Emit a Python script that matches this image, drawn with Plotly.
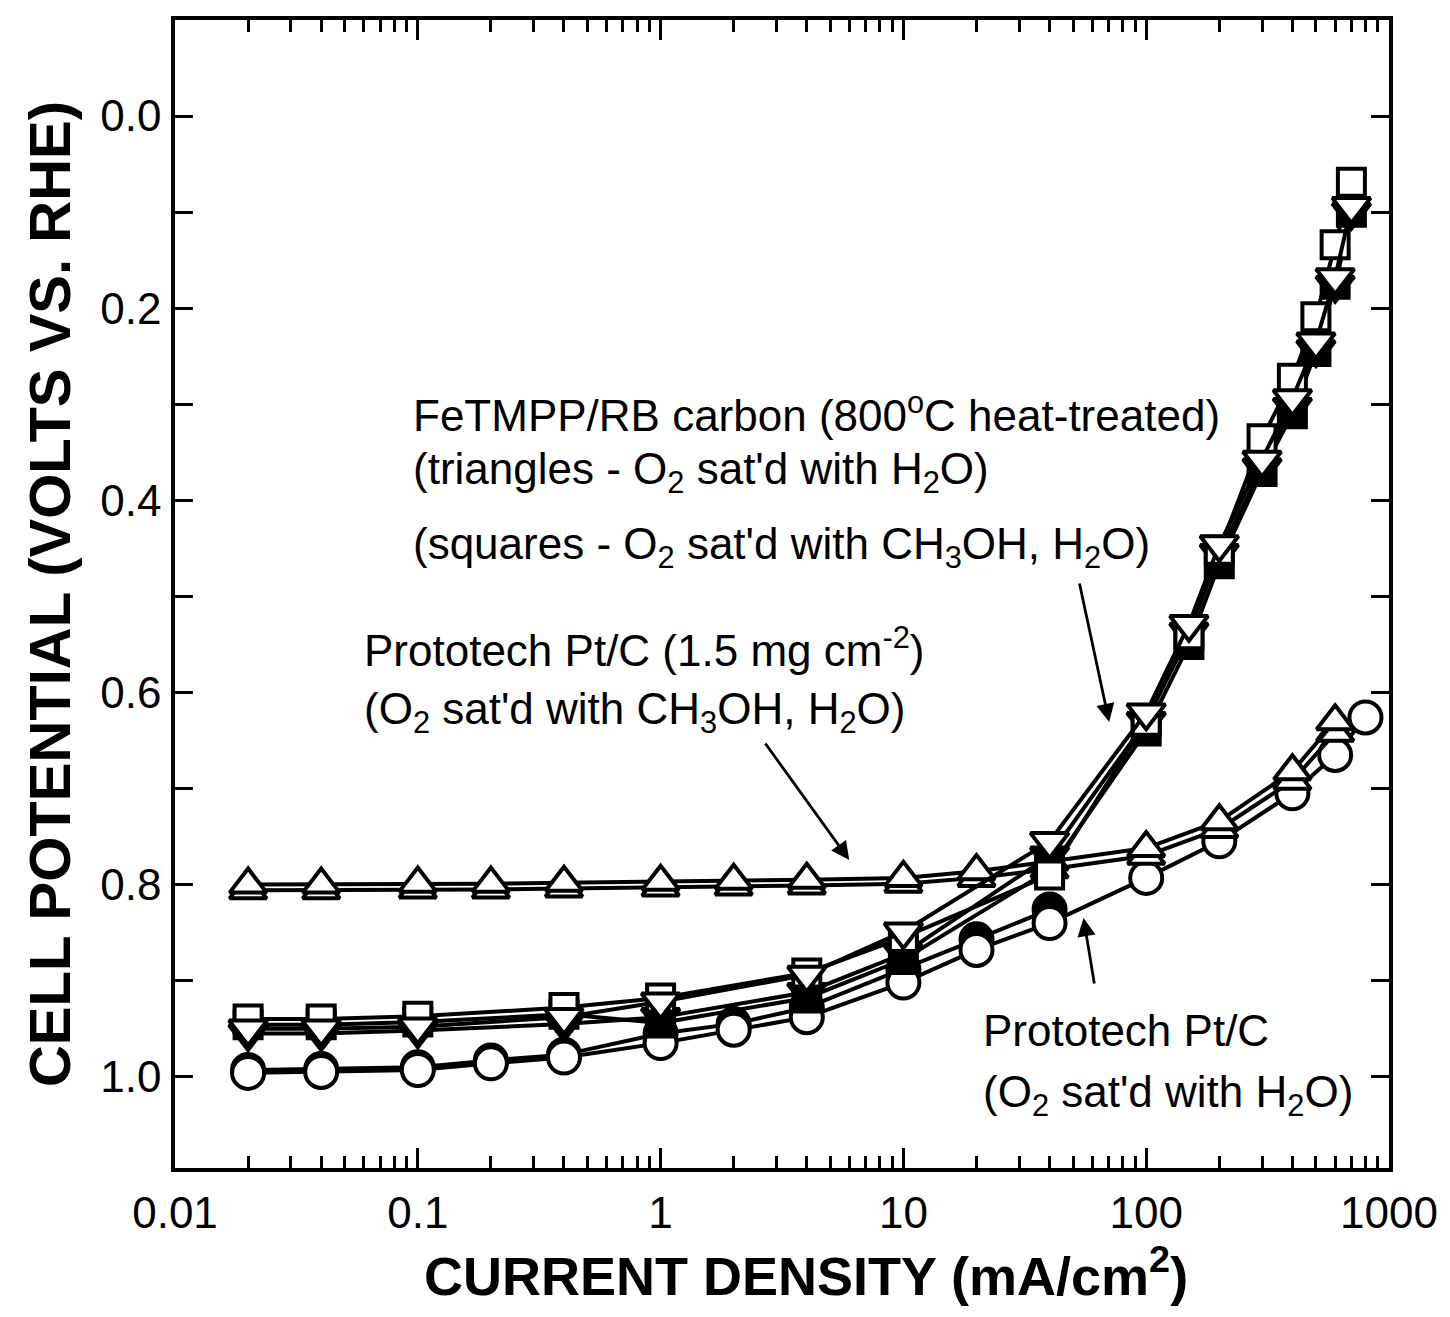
import plotly.graph_objects as go

# Current density (mA/cm^2) and cell potential (V vs. RHE) for each electrode run
pt_ch3oh_x = [0.02, 0.04, 0.1, 0.2, 0.4, 1, 2, 4, 10, 20, 40, 100, 200, 400, 600]
pt_ch3oh_a = [0.800, 0.800, 0.799, 0.799, 0.798, 0.797, 0.796, 0.795, 0.793, 0.786, 0.776, 0.762, 0.734, 0.682, 0.630]
pt_ch3oh_b = [0.806, 0.806, 0.805, 0.805, 0.804, 0.803, 0.802, 0.801, 0.799, 0.793, 0.784, 0.770, 0.742, 0.692, 0.642]

pt_h2o_x = [0.02, 0.04, 0.1, 0.2, 0.4, 1, 2, 4, 10, 20, 40, 100, 200, 400, 600, 800]
pt_h2o_open = [0.996, 0.995, 0.993, 0.986, 0.980, 0.965, 0.951, 0.938, 0.902, 0.868, 0.840, 0.793, 0.755, 0.705, 0.665, 0.626]

pt_h2o_fill_x = [0.02, 0.04, 0.1, 0.2, 0.4, 1, 2, 4, 10, 20, 40]
pt_h2o_fill = [0.993, 0.992, 0.990, 0.983, 0.977, 0.955, 0.945, 0.928, 0.888, 0.857, 0.826]

fe_x = [0.02, 0.04, 0.1, 0.4, 1, 4, 10, 40, 100, 150, 200, 300, 400, 500, 600, 700]
fe_tri_open = [0.950, 0.950, 0.948, 0.938, 0.922, 0.894, 0.849, 0.755, 0.621, 0.529, 0.446, 0.358, 0.294, 0.235, 0.168, 0.094]
fe_tri_fill = [0.955, 0.955, 0.952, 0.945, 0.938, 0.912, 0.872, 0.770, 0.630, 0.537, 0.455, 0.366, 0.303, 0.243, 0.176, 0.100]
fe_sq_open = [0.940, 0.940, 0.937, 0.928, 0.918, 0.892, 0.855, 0.790, 0.630, 0.540, 0.452, 0.336, 0.273, 0.209, 0.134, 0.069]
fe_sq_fill = [0.946, 0.946, 0.943, 0.935, 0.944, 0.918, 0.878, 0.785, 0.640, 0.550, 0.466, 0.370, 0.310, 0.245, 0.175, 0.100]

x_tick_vals = [0.01, 0.1, 1, 10, 100, 1000]
x_tick_text = ["0.01", "0.1", "1", "10", "100", "1000"]
y_tick_vals = [0.0, 0.2, 0.4, 0.6, 0.8, 1.0]
y_tick_text = ["0.0", "0.2", "0.4", "0.6", "0.8", "1.0"]

FONT = "Liberation Sans, Arial, Helvetica, sans-serif"
INK = "black"
LW = 4


def series(x, y, symbol, size, fill, width=LW):
    return go.Scatter(
        x=x, y=y, mode="lines+markers",
        line=dict(color=INK, width=width),
        marker=dict(symbol=symbol, size=size, color=fill,
                    line=dict(color=INK, width=LW)),
        showlegend=False, hoverinfo="skip",
    )


fig = go.Figure()
# Prototech Pt/C, O2 saturated with H2O (circles)
fig.add_trace(series(pt_h2o_fill_x, pt_h2o_fill, "circle", 32, INK))
fig.add_trace(series(pt_h2o_x, pt_h2o_open, "circle", 32, "white"))
# Prototech Pt/C (1.5 mg/cm2), O2 saturated with CH3OH, H2O (triangles up)
fig.add_trace(series(pt_ch3oh_x, pt_ch3oh_b, "triangle-up", 32, "white"))
fig.add_trace(series(pt_ch3oh_x, pt_ch3oh_a, "triangle-up", 32, "white"))
# FeTMPP/RB carbon: squares (CH3OH, H2O) and triangles down (H2O)
fig.add_trace(series(fe_x, fe_sq_fill, "square", 27, INK))
fig.add_trace(series(fe_x, fe_tri_fill, "triangle-down", 33, INK))
fig.add_trace(series(fe_x, fe_sq_open, "square", 27, "white"))
fig.add_trace(series(fe_x, fe_tri_open, "triangle-down", 33, "white"))

text_font = dict(family=FONT, size=44, color=INK)


def label(x, y, text, font=text_font, xanchor="left"):
    fig.add_annotation(x=x, y=y, xref="paper", yref="paper", text=text,
                       showarrow=False, xanchor=xanchor, yanchor="middle",
                       font=font)


def arrow(x, y, ax, ay):
    fig.add_annotation(x=x, y=y, xref="paper", yref="paper", text="",
                       showarrow=True, ax=ax, ay=ay, arrowhead=2,
                       arrowsize=1.3, arrowwidth=2.8, arrowcolor=INK)


label(0.1946, 0.6585, "FeTMPP/RB carbon (800<sup>o</sup>C heat-treated)")
label(0.1946, 0.606, "(triangles - O<sub>2</sub> sat'd with H<sub>2</sub>O)")
label(0.1946, 0.5407, "(squares - O<sub>2</sub> sat'd with CH<sub>3</sub>OH, H<sub>2</sub>O)")
label(0.1539, 0.4532, "Prototech Pt/C (1.5 mg cm<sup>-2</sup>)")
label(0.1539, 0.397, "(O<sub>2</sub> sat'd with CH<sub>3</sub>OH, H<sub>2</sub>O)")
label(0.6637, 0.1202, "Prototech Pt/C")
label(0.6637, 0.0633, "(O<sub>2</sub> sat'd with H<sub>2</sub>O)")

arrow(0.7695, 0.3885, -30, -140)
arrow(0.5554, 0.2683, -85, -118)
arrow(0.7484, 0.2178, 11, 67)

# x-axis title, set just under the tick labels
label(0.52, -0.091, "CURRENT DENSITY (mA/cm<sup>2</sup>)",
      font=dict(family=FONT, size=54, color=INK, weight="bold"), xanchor="center")

fig.update_xaxes(
    type="log", range=[-2, 3],
    tickvals=x_tick_vals, ticktext=x_tick_text,
    ticks="inside", ticklen=20, tickwidth=2.5, tickcolor=INK,
    minor=dict(ticks="inside", ticklen=12, tickwidth=2.5, tickcolor=INK, dtick="D1"),
    showline=True, linewidth=3.5, linecolor=INK, mirror="ticks",
    showgrid=False, zeroline=False,
    ticklabelstandoff=3, ticklabeloverflow="allow",
    tickfont=dict(family=FONT, size=44, color=INK),
)
fig.update_yaxes(
    range=[1.095, -0.1],
    tickvals=y_tick_vals, ticktext=y_tick_text,
    ticks="inside", ticklen=18, tickwidth=2.5, tickcolor=INK,
    minor=dict(ticks="inside", ticklen=18, tickwidth=2.5, tickcolor=INK,
               tick0=0, dtick=0.1),
    showline=True, linewidth=3.5, linecolor=INK, mirror="ticks",
    showgrid=False, zeroline=False,
    ticklabelstandoff=1,
    tickfont=dict(family=FONT, size=44, color=INK),
    title=dict(text="CELL POTENTIAL (VOLTS VS. RHE)",
               font=dict(family=FONT, size=58, color=INK, weight="bold"),
               standoff=12),
)

fig.update_layout(
    width=1450, height=1317,
    margin=dict(l=175, r=46, t=20, b=149),
    paper_bgcolor="white", plot_bgcolor="white",
    showlegend=False,
)

fig.write_html("out.html")
